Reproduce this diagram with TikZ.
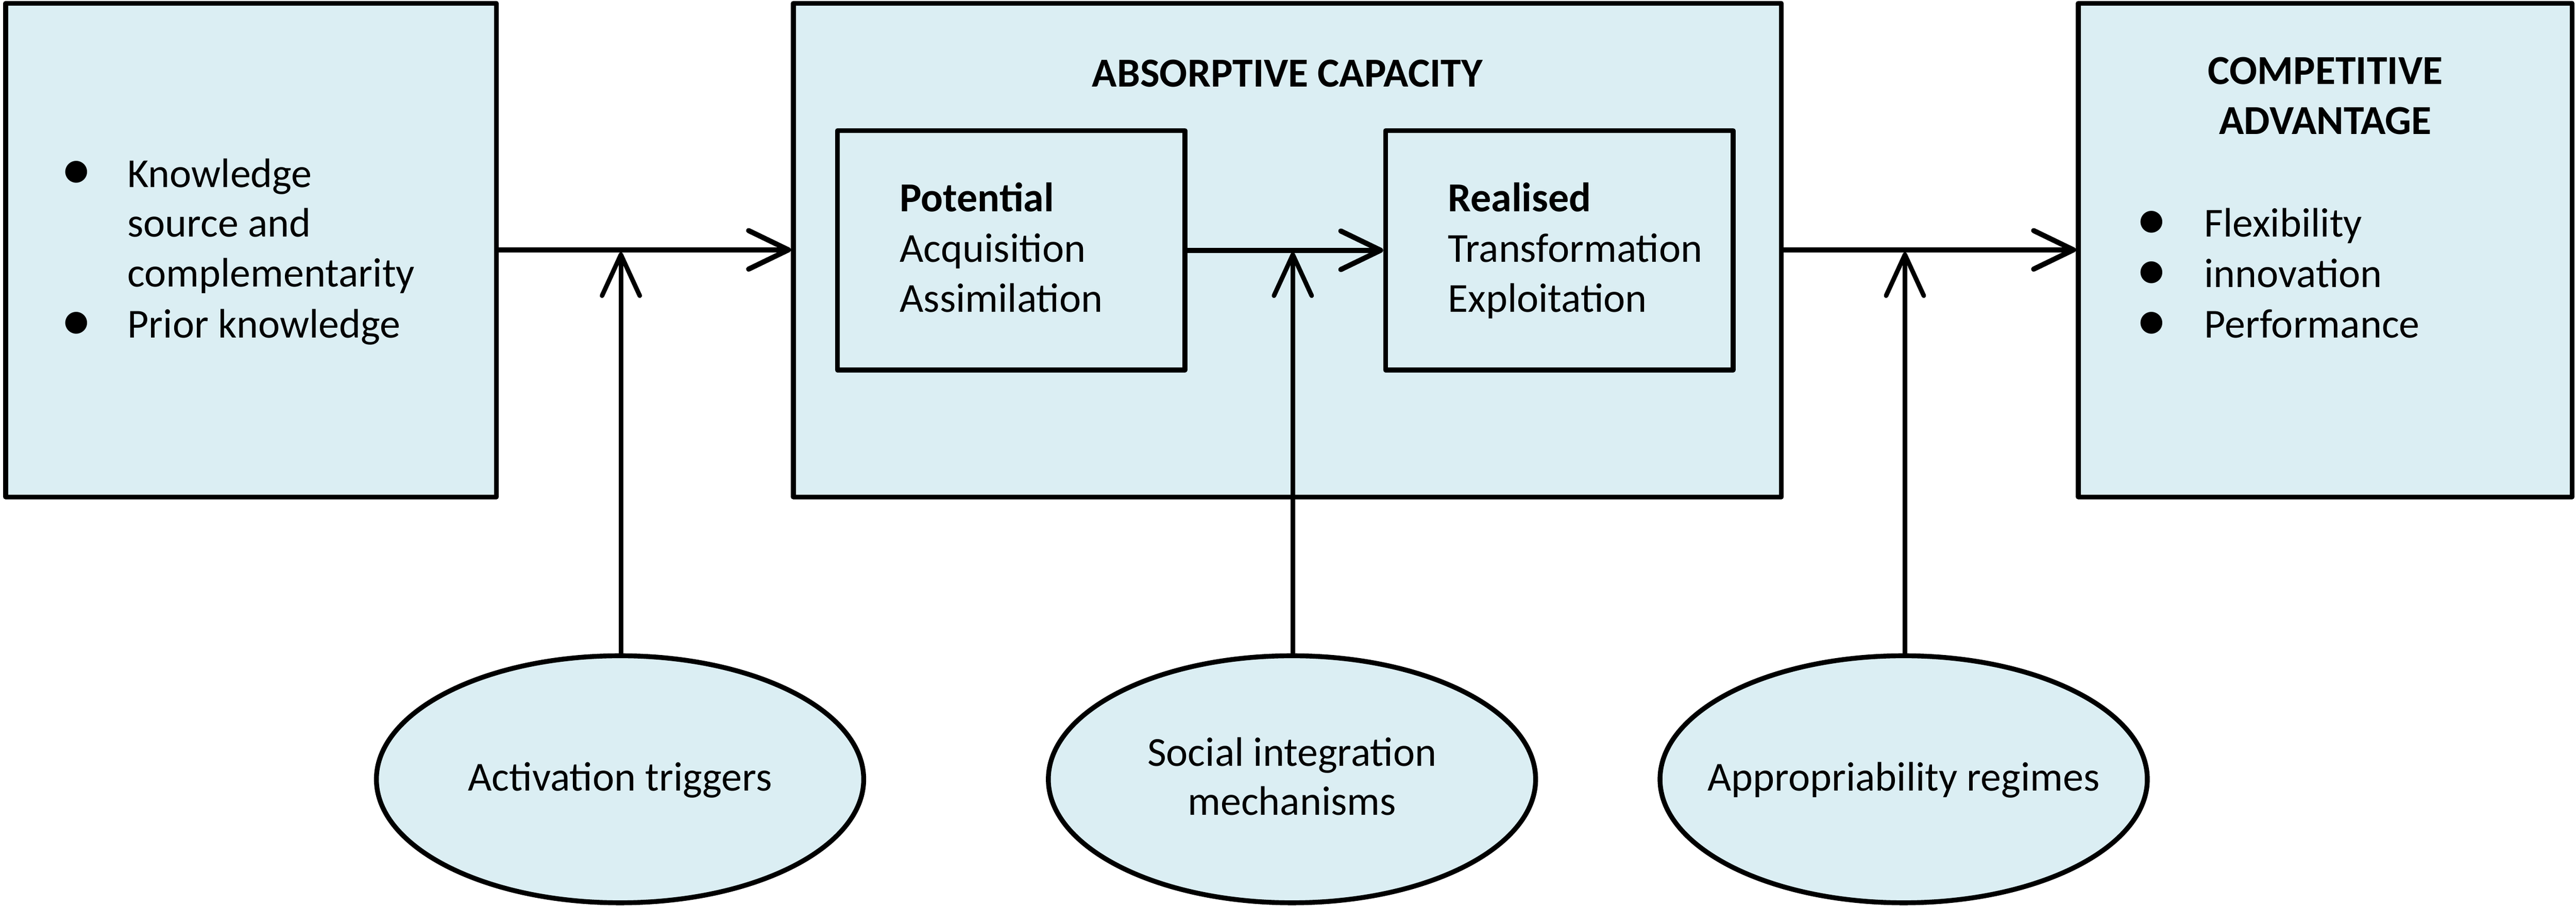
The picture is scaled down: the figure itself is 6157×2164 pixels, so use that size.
\documentclass[tikz,border=0pt]{standalone}
\usepackage{fontspec}
\setmainfont{Carlito}
\usetikzlibrary{arrows.meta,shapes.geometric}
\definecolor{boxfill}{RGB}{219,238,243}
\begin{document}
\begin{tikzpicture}[x=0.01cm,y=-0.01cm,
  box/.style={draw=black, fill=boxfill, line width=3.3pt, line join=round, inner sep=0pt},
  oval/.style={ellipse, draw=black, fill=boxfill, line width=3.3pt, inner sep=0pt,
    minimum width=11.64cm, minimum height=5.9cm},
  txt/.style={inner sep=0pt, anchor=base west, font=\fontsize{28}{34}\selectfont},
  ctxt/.style={inner sep=0pt, anchor=base, font=\fontsize{28}{34}\selectfont},
  ttl/.style={inner sep=0pt, anchor=base, align=center, font=\fontsize{28}{34}\selectfont\bfseries},
  bul/.style={inner sep=0pt, anchor=center, font=\fontsize{42}{42}\selectfont},
  flow/.style={line width=3.5pt, -{Straight Barb[length=0.95cm, width=0.92cm, round]}},
  infl/.style={line width=3.1pt, -{Straight Barb[length=0.98cm, width=0.9cm, round]}}]
\useasboundingbox (0,0) rectangle (6157,2164);

% main boxes
\node (src) [box, minimum width=11.72cm, minimum height=11.79cm] at (600,597.5) {};
\node (acap) [box, minimum width=23.6cm, minimum height=11.79cm] at (3077,597.5) {};
\node (comp) [box, minimum width=11.79cm, minimum height=11.79cm] at (5557.5,597.5) {};
\node (pot) [box, minimum width=8.3cm, minimum height=5.72cm] at (2417,598) {};
\node (real) [box, minimum width=8.3cm, minimum height=5.72cm] at (3727,598) {};

% left box text
\node (b1) [bul] at (183,419) {•};
\node (t1) [txt] at (304,447) {Knowledge};
\node (t2) [txt] at (304,566) {source and};
\node (t3) [txt] at (304,685) {complementarity};
\node (b2) [bul] at (183,779) {•};
\node (t4) [txt] at (304,807) {Prior knowledge};

% absorptive capacity
\node (actitle) [ttl] at (3077,207) {ABSORPTIVE CAPACITY};
\node (p1) [txt,font=\fontsize{28}{34}\selectfont\bfseries] at (2150,505) {Potential};
\node (p2) [txt] at (2150,626) {Acquisition};
\node (p3) [txt] at (2150,746) {Assimilation};
\node (r1) [txt,font=\fontsize{28}{34}\selectfont\bfseries] at (3460,505) {Realised};
\node (r2) [txt] at (3460,626) {Transformation};
\node (r3) [txt] at (3460,746) {Exploitation};

% competitive advantage
\node (catitle) [ttl] at (5558,321) {COMPETITIVE\\ADVANTAGE};
\node (cb1) [bul] at (5143,538) {•};
\node (c1) [txt] at (5268,566) {Flexibility};
\node (cb2) [bul] at (5143,659) {•};
\node (c2) [txt] at (5268,687) {innovation};
\node (cb3) [bul] at (5143,779) {•};
\node (c3) [txt] at (5268,807) {Performance};

% ellipses
\node (e1) [oval] at (1482,1862) {};
\node (e2) [oval] at (3088,1862) {};
\node (e3) [oval] at (4550,1862) {};
\node (e1t) [ctxt] at (1482,1890) {Activation triggers};
\node (e2t) [ctxt] at (3088,1831) {Social integration};
\node (e2u) [ctxt] at (3088,1948) {mechanisms};
\node (e3t) [ctxt] at (4550,1890) {Appropriability regimes};

% horizontal flows
\draw[flow] (src.east |- 0,597) -- (acap.west |- 0,597);
\draw[flow] (pot.east) -- (real.west);
\draw[flow] (acap.east |- 0,597) -- (comp.west |- 0,597);

% influences
\coordinate (j1) at (1484,603);
\coordinate (j2) at (3090,603);
\coordinate (j3) at (4553,603);
\draw[infl] (e1.north -| j1) -- (j1);
\draw[infl] (e2.north -| j2) -- (j2);
\draw[infl] (e3.north -| j3) -- (j3);
\end{tikzpicture}
\end{document}
